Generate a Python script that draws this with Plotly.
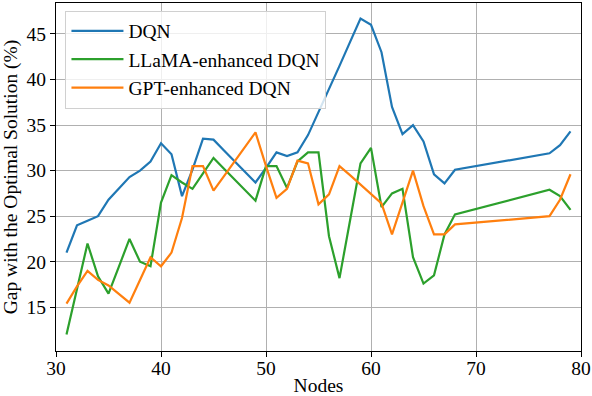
import plotly.graph_objects as go

BLUE = "#1f77b4"
GREEN = "#2ca02c"
ORANGE = "#ff7f0e"
SERIF = "Liberation Serif"

nodes = list(range(31, 69)) + [77, 78, 79]

dqn = [
    21.0, 24.0, 24.5, 25.0, 26.8, 28.0, 29.3, 30.0, 31.0, 33.0,
    31.8, 27.2, 30.1, 33.5, 33.4, 32.2, 31.0, 29.9, 28.7, 30.3,
    32.0, 31.6, 32.0, 33.9, 36.4, 38.9, 41.5, 44.1, 46.7, 46.0,
    43.0, 37.0, 34.0, 35.0, 33.2, 29.6, 28.6, 30.1,
    31.9, 32.8, 34.3,
]
llama_dqn = [
    12.0, 17.0, 22.0, 18.4, 16.5, 19.5, 22.5, 20.0, 19.5, 26.5,
    29.5, 28.7, 28.0, 29.7, 31.4, 30.2, 29.0, 27.9, 26.7, 30.5,
    30.5, 28.1, 31.0, 32.0, 32.0, 22.8, 18.2, 24.5, 30.8, 32.5,
    26.0, 27.5, 28.0, 20.5, 17.6, 18.5, 23.0, 25.2,
    27.9, 27.2, 25.7,
]
gpt_dqn = [
    15.4, 17.3, 19.0, 18.0, 17.4, 16.5, 15.5, 18.0, 20.5, 19.5,
    21.0, 24.8, 30.5, 30.5, 27.8, 29.4, 31.0, 32.6, 34.2, 30.5,
    27.0, 28.0, 31.1, 30.8, 26.3, 27.4, 30.5, 29.5, 28.5, 27.4,
    26.4, 23.0, 26.5, 30.0, 26.1, 23.0, 23.0, 24.1,
    25.0, 26.8, 29.6,
]

fig = go.Figure()
for name, vals, color in [
    ("DQN", dqn, BLUE),
    ("LLaMA-enhanced DQN", llama_dqn, GREEN),
    ("GPT-enhanced DQN", gpt_dqn, ORANGE),
]:
    fig.add_trace(go.Scatter(x=nodes, y=vals, mode="lines", name=name,
                             line=dict(color=color, width=2.2)))

fig.update_layout(
    width=592,
    height=396,
    margin=dict(l=56, r=11, t=3, b=45),
    paper_bgcolor="white",
    plot_bgcolor="white",
    font=dict(family=SERIF, size=19.5, color="black"),
    showlegend=True,
    legend=dict(
        x=0.018, y=0.978, xanchor="left", yanchor="top",
        bgcolor="rgba(255,255,255,0.8)",
        bordercolor="#d0d0d0", borderwidth=1,
        itemwidth=52,
        font=dict(family=SERIF, size=19.5),
    ),
)
axis_style = dict(
    showline=True, linecolor="black", linewidth=1, mirror=True,
    ticks="outside", ticklen=5, tickwidth=1, tickcolor="black",
    showgrid=True, gridcolor="#b0b0b0", gridwidth=1,
    zeroline=False, automargin=False,
    tickfont=dict(family=SERIF, size=19.5),
)
fig.update_xaxes(range=[30, 80], dtick=10, ticklabelstandoff=-5,
                 title=dict(text="Nodes", standoff=13, font=dict(family=SERIF, size=19.5)),
                 **axis_style)
fig.update_yaxes(range=[10.2, 48.4], tickvals=[15, 20, 25, 30, 35, 40, 45],
                 title=dict(text="Gap with the Optimal Solution (%)", standoff=4,
                            font=dict(family=SERIF, size=19.5)),
                 **axis_style)

fig.write_html("out.html", config={"displayModeBar": False},
               post_script="document.body.style.margin='0px';")
